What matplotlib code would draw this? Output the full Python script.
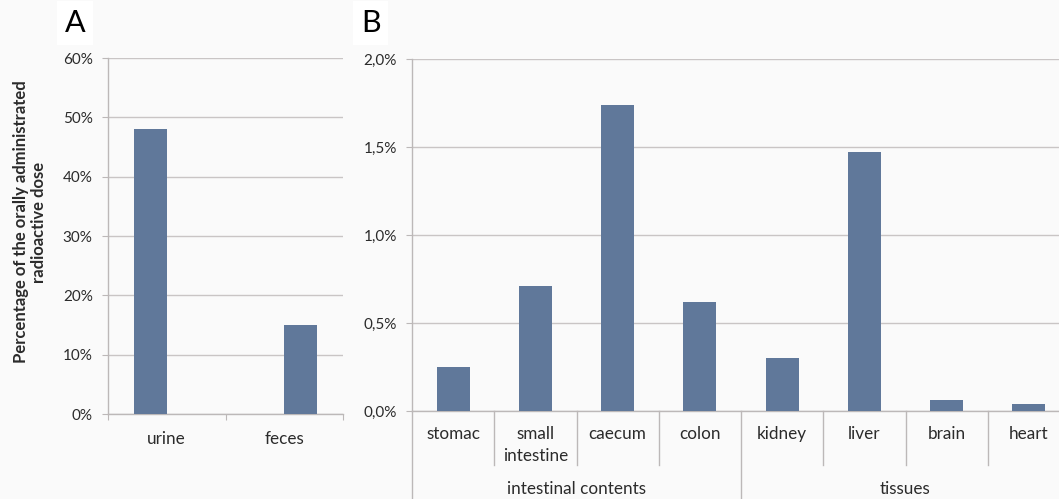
import matplotlib
matplotlib.use("Agg")
from matplotlib import pyplot as plt
from matplotlib.lines import Line2D
from matplotlib.ticker import FuncFormatter

# excretion (panel A), % of dose
excretion_labels = ["urine", "feces"]
excretion_values = [48.0, 15.0]

# distribution (panel B), % of dose
organ_labels = ["stomac", "small\nintestine", "caecum", "colon",
                "kidney", "liver", "brain", "heart"]
organ_values = [0.25, 0.71, 1.74, 0.62, 0.30, 1.47, 0.06, 0.04]
group_labels = ["intestinal contents", "tissues"]
group_sizes = [4, 4]

plt.rcParams['font.family'] = ['Lato', 'DejaVu Sans']

BAR = "#60789a"
GRID = "#c9c5c5"
AXIS = "#bcb8b8"
TEXT = "#2b2b2b"
FS = 12.3

W, H = 1059, 499
fig = plt.figure(figsize=(W / 100, H / 100), dpi=100)
fig.patch.set_facecolor("#fafafa")


def px_axes(left, top, right, bottom):
    return fig.add_axes([left / W, 1 - bottom / H, (right - left) / W, (bottom - top) / H])


def style(ax):
    ax.set_facecolor("#fafafa")
    for s in ["top", "right"]:
        ax.spines[s].set_visible(False)
    for s in ["left", "bottom"]:
        ax.spines[s].set_color(AXIS)
        ax.spines[s].set_linewidth(1.0)
    ax.yaxis.grid(True, color=GRID, linewidth=1.0)
    ax.set_axisbelow(True)
    ax.tick_params(axis="y", length=4, color=AXIS, pad=7, labelsize=11, labelcolor=TEXT)


# ---- panel A: urine and feces are two series, so each bar sits off-centre
axA = px_axes(108, 58, 343, 414)
style(axA)
xa = [i + 0.5 for i in range(len(excretion_values))]
bw = 0.28
for i, (x, v) in enumerate(zip(xa, excretion_values)):
    axA.bar(x + (i - 0.5) * bw, v, width=bw, color=BAR, zorder=3)
axA.set_xlim(0, len(excretion_values))
axA.set_ylim(0, 60)
axA.set_yticks(range(0, 61, 10))
axA.yaxis.set_major_formatter(FuncFormatter(lambda v, p: "%d%%" % v))
axA.set_xticks(range(len(excretion_values) + 1))
axA.set_xticklabels([])
axA.tick_params(axis="x", which="major", length=4, color=AXIS)
axA.set_xticks(xa, minor=True)
axA.set_xticklabels(excretion_labels, minor=True)
axA.tick_params(axis="x", which="minor", length=0, pad=12, labelsize=FS, labelcolor=TEXT)

# ---- panel B
axB = px_axes(412, 59, 1070, 411)
style(axB)
xb = [i + 0.5 for i in range(len(organ_values))]
axB.bar(xb, organ_values, width=0.4, color=BAR, zorder=3)
axB.set_xlim(0, len(organ_values))
axB.set_ylim(0, 2.0)
axB.set_yticks([0, 0.5, 1.0, 1.5, 2.0])
axB.yaxis.set_major_formatter(FuncFormatter(lambda v, p: ("%.1f%%" % v).replace(".", ",")))
axB.set_xticks(xb)
axB.set_xticklabels(organ_labels, va="top", linespacing=1.45)
axB.tick_params(axis="x", length=0, pad=11, labelsize=FS, labelcolor=TEXT)
axB.spines["left"].set_bounds(0, 2.0)

# category separators below the axis
tr = axB.get_xaxis_transform()
edge = 0
for size in group_sizes:
    for k in range(1, size):
        axB.add_line(Line2D([edge + k, edge + k], [0, -0.153], transform=tr,
                            color=AXIS, lw=1.0, clip_on=False))
    axB.add_line(Line2D([edge, edge], [0, -0.3], transform=tr,
                        color=AXIS, lw=1.0, clip_on=False))
    edge += size

# group labels
edge = 0
for name, size in zip(group_labels, group_sizes):
    axB.text(edge + size / 2, -0.222, name, transform=tr, ha="center", va="center",
             fontsize=FS, color=TEXT)
    edge += size

# panel letters and shared y label
fig.text(65 / W, 1 - 23 / H, "A", fontsize=22, ha="left", va="center", color="black",
         bbox=dict(boxstyle="square,pad=0.25", fc="white", ec="none"))
fig.text(361 / W, 1 - 23 / H, "B", fontsize=22, ha="left", va="center", color="black",
         bbox=dict(boxstyle="square,pad=0.25", fc="white", ec="none"))
fig.text(30 / W, 1 - 222 / H, "Percentage of the orally administrated\nradioactive dose",
         rotation=90, ha="center", va="center", multialignment="center",
         fontsize=12, fontweight="bold", color=TEXT, linespacing=1.2)

fig.savefig("out.png", dpi=100, facecolor=fig.get_facecolor())
